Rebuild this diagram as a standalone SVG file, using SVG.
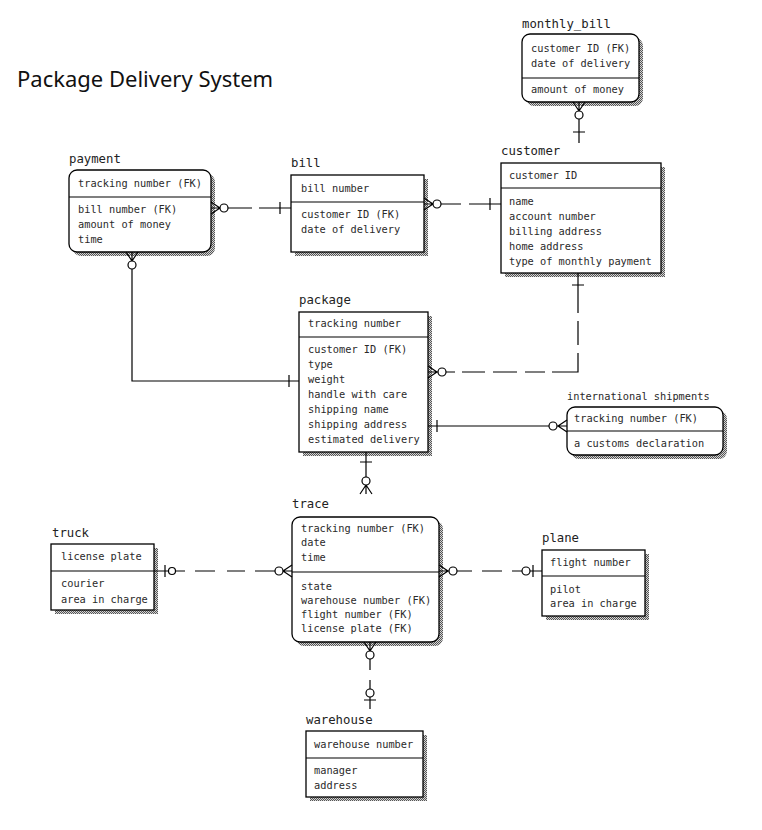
<svg xmlns="http://www.w3.org/2000/svg" width="762" height="830" viewBox="0 0 762 830">
<defs>
<pattern id="dots" width="2" height="2" patternUnits="userSpaceOnUse">
<rect width="2" height="2" fill="#d4d4d4"/>
<rect width="1" height="1" fill="#555"/>
<rect x="1" y="1" width="1" height="1" fill="#555"/>
</pattern>
</defs>
<style>
.box{fill:#fff;stroke:#000;stroke-width:1.3}
.sh{fill:url(#dots)}
.dv{stroke:#000;stroke-width:1.2}
.t{font-family:"DejaVu Sans Mono","Liberation Mono",monospace;font-size:10.3px;fill:#2a2a2a}
.lbl{font-family:"DejaVu Sans Mono","Liberation Mono",monospace;font-size:12.3px;fill:#222}
.ln{fill:none;stroke:#000;stroke-width:1.2}
.ci{fill:#fff;stroke:#000;stroke-width:1.2}
</style>
<rect width="762" height="830" fill="#fff"/>
<text x="17" y="87" style="font-family:'Noto Sans','Open Sans',sans-serif;font-size:22px;fill:#111">Package Delivery System</text>

<g id="monthly_bill">
<text class="lbl" x="522" y="28">monthly_bill</text>
<rect class="sh" x="526" y="38" width="117" height="68" rx="8"/>
<rect class="box" x="522" y="34" width="117" height="68" rx="8"/>
<line class="dv" x1="522" y1="78" x2="639" y2="78"/>
<text class="t" x="531" y="52">customer ID (FK)</text>
<text class="t" x="531" y="67">date of delivery</text>
<text class="t" x="531" y="93">amount of money</text>
</g>

<g id="payment">
<text class="lbl" x="69" y="163">payment</text>
<rect class="sh" x="73" y="174" width="142" height="82" rx="8"/>
<rect class="box" x="69" y="170" width="142" height="82" rx="8"/>
<line class="dv" x1="69" y1="197" x2="211" y2="197"/>
<text class="t" x="78" y="187">tracking number (FK)</text>
<text class="t" x="78" y="213">bill number (FK)</text>
<text class="t" x="78" y="228">amount of money</text>
<text class="t" x="78" y="243">time</text>
</g>

<g id="bill">
<text class="lbl" x="291" y="167">bill</text>
<rect class="sh" x="295" y="179" width="133" height="77"/>
<rect class="box" x="291" y="175" width="133" height="77"/>
<line class="dv" x1="291" y1="202" x2="424" y2="202"/>
<text class="t" x="301" y="192">bill number</text>
<text class="t" x="301" y="218">customer ID (FK)</text>
<text class="t" x="301" y="233">date of delivery</text>
</g>

<g id="customer">
<text class="lbl" x="501" y="155">customer</text>
<rect class="sh" x="505" y="167" width="160" height="110"/>
<rect class="box" x="501" y="163" width="160" height="110"/>
<line class="dv" x1="501" y1="188" x2="661" y2="188"/>
<text class="t" x="509" y="179">customer ID</text>
<text class="t" x="509" y="205">name</text>
<text class="t" x="509" y="220">account number</text>
<text class="t" x="509" y="235">billing address</text>
<text class="t" x="509" y="250">home address</text>
<text class="t" x="509" y="265">type of monthly payment</text>
</g>

<g id="package">
<text class="lbl" x="299" y="304">package</text>
<rect class="sh" x="303" y="316" width="129" height="140"/>
<rect class="box" x="299" y="312" width="129" height="140"/>
<line class="dv" x1="299" y1="337" x2="428" y2="337"/>
<text class="t" x="308" y="327">tracking number</text>
<text class="t" x="308" y="353">customer ID (FK)</text>
<text class="t" x="308" y="368">type</text>
<text class="t" x="308" y="383">weight</text>
<text class="t" x="308" y="398">handle with care</text>
<text class="t" x="308" y="413">shipping name</text>
<text class="t" x="308" y="428">shipping address</text>
<text class="t" x="308" y="443">estimated delivery</text>
</g>

<g id="international_shipments">
<text class="t" x="567" y="400">international shipments</text>
<rect class="sh" x="571" y="411" width="156" height="48" rx="8"/>
<rect class="box" x="567" y="407" width="156" height="48" rx="8"/>
<line class="dv" x1="567" y1="431" x2="723" y2="431"/>
<text class="t" x="574" y="422">tracking number (FK)</text>
<text class="t" x="574" y="447">a customs declaration</text>
</g>

<g id="trace">
<text class="lbl" x="292" y="508">trace</text>
<rect class="sh" x="296" y="521" width="147" height="125" rx="8"/>
<rect class="box" x="292" y="517" width="147" height="125" rx="8"/>
<line class="dv" x1="292" y1="572" x2="439" y2="572"/>
<text class="t" x="301" y="532">tracking number (FK)</text>
<text class="t" x="301" y="546">date</text>
<text class="t" x="301" y="561">time</text>
<text class="t" x="301" y="590">state</text>
<text class="t" x="301" y="604">warehouse number (FK)</text>
<text class="t" x="301" y="618">flight number (FK)</text>
<text class="t" x="301" y="632">license plate (FK)</text>
</g>

<g id="truck">
<text class="lbl" x="52" y="537">truck</text>
<rect class="sh" x="55" y="548" width="103" height="66"/>
<rect class="box" x="51" y="544" width="103" height="66"/>
<line class="dv" x1="51" y1="571" x2="154" y2="571"/>
<text class="t" x="61" y="560">license plate</text>
<text class="t" x="61" y="587">courier</text>
<text class="t" x="61" y="603">area in charge</text>
</g>

<g id="plane">
<text class="lbl" x="542" y="542">plane</text>
<rect class="sh" x="546" y="554" width="103" height="66"/>
<rect class="box" x="542" y="550" width="103" height="66"/>
<line class="dv" x1="542" y1="576" x2="645" y2="576"/>
<text class="t" x="550" y="566">flight number</text>
<text class="t" x="550" y="593">pilot</text>
<text class="t" x="550" y="607">area in charge</text>
</g>

<g id="warehouse">
<text class="lbl" x="306" y="724">warehouse</text>
<rect class="sh" x="310" y="735" width="117" height="66"/>
<rect class="box" x="306" y="731" width="117" height="66"/>
<line class="dv" x1="306" y1="758" x2="423" y2="758"/>
<text class="t" x="314" y="748">warehouse number</text>
<text class="t" x="314" y="774">manager</text>
<text class="t" x="314" y="789">address</text>
</g>

<g id="connectors">
<!-- monthly_bill - customer -->
<path class="ln" d="M579 102 V143 M573 102 L579 111 L585 102 M573 132 H585"/>
<circle class="ci" cx="579" cy="115" r="4"/>
<!-- payment - bill -->
<path class="ln" d="M211 208 H252 M259 208 H291 M211 202 L220 208 L211 214 M280 202 V214"/>
<circle class="ci" cx="224" cy="208" r="4"/>
<!-- bill - customer -->
<path class="ln" d="M424 204 H461 M469 204 H501 M424 198 L433 204 L424 210 M490 198 V210"/>
<circle class="ci" cx="437" cy="204" r="4"/>
<!-- customer - package -->
<path class="ln" d="M578 273 V313 M578 321 V345 M578 353 V372 H552 M545 372 H525 M517 372 H493 M485 372 H462 M455 372 H428 M428 366 L437 372 L428 378 M572 285 H584"/>
<circle class="ci" cx="442" cy="372" r="4"/>
<!-- payment - package -->
<path class="ln" d="M132 252 V381 H299 M126 252 L132 261 L138 252 M289 375 V387"/>
<circle class="ci" cx="132" cy="265" r="4"/>
<!-- package - international shipments -->
<path class="ln" d="M428 426 H567 M437 420 V432 M567 420 L558 426 L567 432"/>
<circle class="ci" cx="553" cy="426" r="4"/>
<!-- package - trace -->
<path class="ln" d="M366 452 V494 M360 462 H372 M360 494 L366 485 L372 494"/>
<circle class="ci" cx="366" cy="481" r="4"/>
<!-- truck - trace -->
<path class="ln" d="M154 571 H185 M195 571 H215 M227 571 H245 M255 571 H292 M165 565 V577 M292 565 L283 571 L292 577"/>
<circle class="ci" cx="172" cy="571" r="3.5"/>
<circle class="ci" cx="279" cy="571" r="4"/>
<!-- trace - plane -->
<path class="ln" d="M439 571 H472 M482 571 H502 M512 571 H542 M439 565 L448 571 L439 577 M533 565 V577"/>
<circle class="ci" cx="453" cy="571" r="4"/>
<circle class="ci" cx="526" cy="571" r="4"/>
<!-- trace - warehouse -->
<path class="ln" d="M370 642 V670 M370 680 V709 M364 642 L370 651 L376 642 M364 700 H376"/>
<circle class="ci" cx="370" cy="655" r="4"/>
<circle class="ci" cx="370" cy="693" r="4"/>
</g>
</svg>
